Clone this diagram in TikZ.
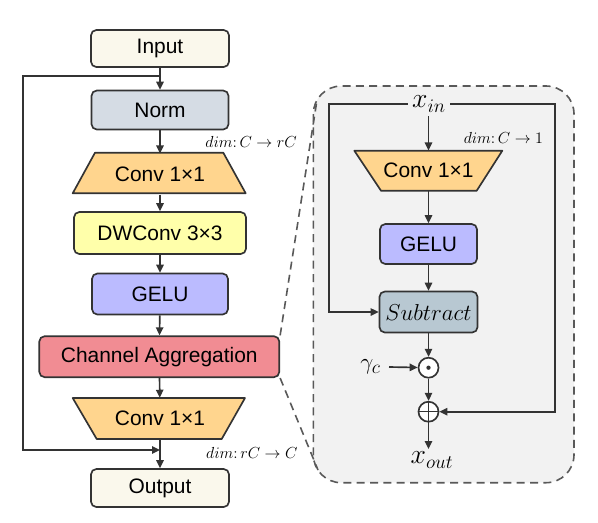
\documentclass[tikz,border=0pt]{standalone}
\usepackage[no-math]{fontspec}
\setmainfont{Liberation Sans}
\usetikzlibrary{arrows.meta}
\definecolor{iocream}{HTML}{FAF8EC}
\definecolor{normgray}{HTML}{D5DCE4}
\definecolor{convorange}{HTML}{FFD58E}
\definecolor{dwyellow}{HTML}{FFFFAA}
\definecolor{gelublue}{HTML}{BBBBFF}
\definecolor{aggred}{HTML}{F18C93}
\definecolor{subgray}{HTML}{B8C8D2}
\definecolor{panelgray}{HTML}{F2F2F2}
\definecolor{linegray}{HTML}{333333}
\begin{document}
\begin{tikzpicture}[
            x=0.75pt, y=-0.75pt,
            font=\fontsize{15.7}{18}\selectfont,
            block/.style={rectangle, rounded corners=4pt, draw=linegray, line width=1.25pt, inner sep=0pt},
            convshape/.style={draw=linegray, line width=1.25pt, fill=convorange, line join=round},
            convtext/.style={rectangle, inner sep=0pt},
            arr/.style={draw=linegray, line width=1.25pt, -{Triangle[length=6pt,width=5.5pt]}},
            line/.style={draw=linegray, line width=1.25pt},
            zoomline/.style={draw=black!65, line width=1.2pt, dash pattern=on 6pt off 4pt},
            dimlbl/.style={font=\fontsize{12.8}{14}\selectfont, inner sep=0pt},
            opnode/.style={circle, draw=linegray, line width=1.25pt, fill=white, minimum size=15pt, inner sep=0pt}
        ]
            \useasboundingbox (0,0) rectangle (598,522);

            % zoom panel
            \draw[zoomline, fill=panelgray, rounded corners=21pt] (313.3,86) rectangle (574,482.7);
            \coordinate (zt) at (317,100);
            \coordinate (zb) at (318,470);

            % trapezoids
            \filldraw[convshape] (95,152.7) -- (223.3,152.7) -- (245.7,193.3) -- (72.7,193.3) -- cycle;
            \filldraw[convshape] (72.7,398) -- (245,398) -- (221.7,439) -- (96.7,439) -- cycle;
            \filldraw[convshape] (354.3,150.7) -- (502.3,150.7) -- (476.7,190.7) -- (381,190.7) -- cycle;

            % main branch
            \node[block, fill=iocream, minimum width=103.5pt, minimum height=27.75pt] (inp) at (160,48.5) {Input};
            \node[block, fill=normgray, minimum width=102.75pt, minimum height=29.25pt] (norm) at (160,110) {Norm};
            \node[convtext, minimum width=96pt, minimum height=30.45pt] (convA) at (160,174) {Conv 1×1};
            \node[block, fill=dwyellow, minimum width=129pt, minimum height=31.5pt] (dw) at (160,233) {DWConv 3×3};
            \node[block, fill=gelublue, minimum width=102pt, minimum height=30.75pt] (gelu) at (160,294) {GELU};
            \node[block, fill=aggred, minimum width=180pt, minimum height=30.75pt] (agg) at (159.3,356.7) {Channel Aggregation};
            \node[convtext, minimum width=94pt, minimum height=30.75pt] (convB) at (160,418.5) {Conv 1×1};
            \node[block, fill=iocream, minimum width=103.5pt, minimum height=28.5pt] (out) at (160,488) {Output};

            \node[dimlbl, anchor=east] (dimA) at (297,141.7) {$dim\colon C\rightarrow rC$};
            \node[dimlbl, anchor=east] (dimB) at (297.7,453.3) {$dim\colon rC\rightarrow C$};

            \coordinate (sA) at (160,76);
            \coordinate (sL) at (23.3,76);
            \coordinate (sB) at (160,450);

            \draw[arr] (inp) -- (norm);
            \draw[arr] (norm) -- (convA);
            \draw[arr] (convA) -- (dw);
            \draw[arr] (dw) -- (gelu);
            \draw[arr] (gelu) -- (agg);
            \draw[arr] (agg) -- (convB);
            \draw[arr] (convB) -- (out);
            \draw[arr] (sA) -- (sL) |- (sB);

            \draw[zoomline] (agg.north east) -- (zt);
            \draw[zoomline] (agg.south east) -- (zb);

            % channel aggregation detail
            \node[font=\fontsize{21}{24}\selectfont, inner sep=3pt] (xin) at (429,104) {$x_{in}$};
            \node[dimlbl, anchor=east] (dimC) at (543.3,138.3) {$dim\colon C\rightarrow 1$};
            \node[convtext, minimum width=72pt, minimum height=30pt] (convC) at (428.5,170.7) {Conv 1×1};
            \node[block, fill=gelublue, minimum width=72.75pt, minimum height=30pt] (geluC) at (428.5,244) {GELU};
            \node[block, fill=subgray, minimum width=73.5pt, minimum height=30.75pt, font=\fontsize{16}{18}\selectfont] (sub) at (428.5,312) {$Subtract$};
            \node[opnode] (od) at (428.5,367.7) {};
            \node[opnode] (opl) at (428.5,411.7) {};
            \node[font=\fontsize{19}{22}\selectfont, inner ysep=2pt, inner xsep=0pt, anchor=east] (gam) at (381,367) {$\gamma_c$};
            \node[font=\fontsize{21}{24}\selectfont, inner sep=2pt] (xout) at (432,460) {$x_{out}$};

            \fill[linegray] (od) circle (1.6pt);
            \draw[line, line width=1.1pt] (opl.north) -- (opl.south) (opl.west) -- (opl.east);

            \coordinate (lc) at (329.3,104);
            \coordinate (rc) at (555,104);

            \draw[arr] (xin.south -| convC) -- (convC);
            \draw[arr] (convC) -- (geluC);
            \draw[arr] (geluC) -- (sub);
            \draw[arr] (sub) -- (od);
            \draw[arr] (od) -- (opl);
            \draw[arr] (opl) -- (opl |- xout.north);
            \draw[arr] ([xshift=6pt]gam.east) -- (od);
            \draw[arr] (xin.west) -- (lc) |- (sub.west);
            \draw[arr] (xin.east) -- (rc) |- (opl.east);

        \end{tikzpicture}
\end{document}
